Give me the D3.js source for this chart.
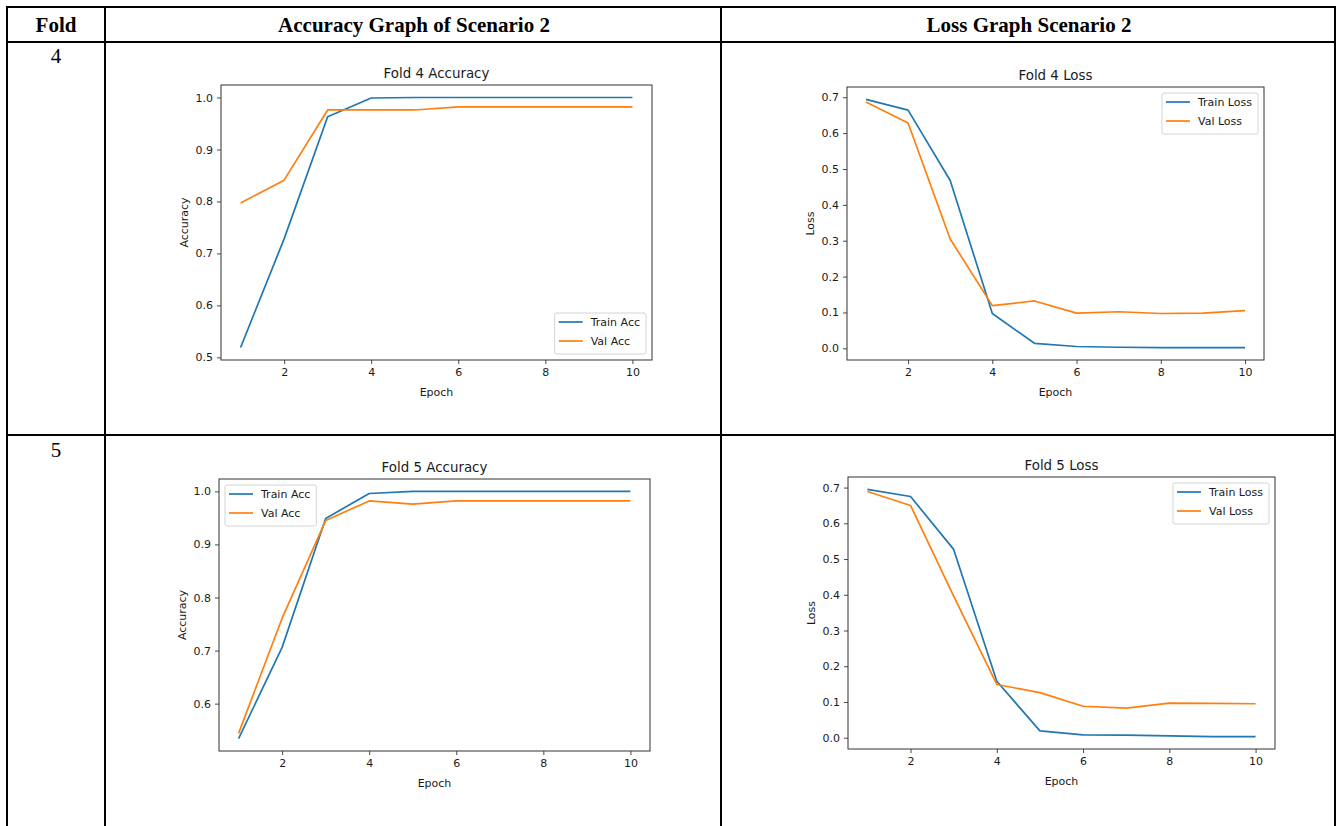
<!DOCTYPE html>
<html>
<head>
<meta charset="utf-8">
<script src="https://cdn.jsdelivr.net/npm/d3@7"></script>
<style>
  body { margin: 0; background: #fff; }
  svg { display: block; }
  .cell-text { font-family: "Liberation Serif", "Times New Roman", serif; fill: #000; }
  .plot text { font-family: "DejaVu Sans", sans-serif; fill: #1a1a1a; }
</style>
</head>
<body>
<div id="chart"></div>
<script>
const width = 1336;
const height = 826;

// data
const epochs = [1, 2, 3, 4, 5, 6, 7, 8, 9, 10];
const fold4TrainAcc = [0.519, 0.728, 0.963, 0.999, 1.0, 1.0, 1.0, 1.0, 1.0, 1.0];
const fold4ValAcc = [0.797, 0.841, 0.976, 0.976, 0.976, 0.982, 0.982, 0.982, 0.982, 0.982];
const fold4TrainLoss = [0.694, 0.664, 0.468, 0.097, 0.014, 0.005, 0.003, 0.002, 0.002, 0.002];
const fold4ValLoss = [0.687, 0.628, 0.305, 0.119, 0.132, 0.098, 0.102, 0.097, 0.098, 0.105];
const fold5TrainAcc = [0.534, 0.706, 0.949, 0.996, 1.0, 1.0, 1.0, 1.0, 1.0, 1.0];
const fold5ValAcc = [0.544, 0.761, 0.945, 0.982, 0.976, 0.982, 0.982, 0.982, 0.982, 0.982];
const fold5TrainLoss = [0.695, 0.675, 0.527, 0.158, 0.019, 0.008, 0.007, 0.005, 0.003, 0.003];
const fold5ValLoss = [0.689, 0.650, 0.396, 0.149, 0.126, 0.088, 0.083, 0.097, 0.096, 0.095];

const xTicks = [2, 4, 6, 8, 10];
const accTicks4 = [0.5, 0.6, 0.7, 0.8, 0.9, 1.0];
const accTicks5 = [0.6, 0.7, 0.8, 0.9, 1.0];
const lossTicks = [0.0, 0.1, 0.2, 0.3, 0.4, 0.5, 0.6, 0.7];

const headers = ['Fold', 'Accuracy Graph of Scenario 2', 'Loss Graph Scenario 2'];
const foldLabels = ['4', '5'];

const colors = ['#1f77b4', '#ff7f0e'];

const panels = [
  {title: 'Fold 4 Accuracy', ylabel: 'Accuracy', series: [fold4TrainAcc, fold4ValAcc],
   names: ['Train Acc', 'Val Acc'], yTicks: accTicks4, legend: 'lower right',
   box: {x: 221, y: 85, w: 431, h: 275}},
  {title: 'Fold 4 Loss', ylabel: 'Loss', series: [fold4TrainLoss, fold4ValLoss],
   names: ['Train Loss', 'Val Loss'], yTicks: lossTicks, legend: 'upper right',
   box: {x: 847, y: 87, w: 417, h: 273}},
  {title: 'Fold 5 Accuracy', ylabel: 'Accuracy', series: [fold5TrainAcc, fold5ValAcc],
   names: ['Train Acc', 'Val Acc'], yTicks: accTicks5, legend: 'upper left',
   box: {x: 219, y: 479, w: 431, h: 272}},
  {title: 'Fold 5 Loss', ylabel: 'Loss', series: [fold5TrainLoss, fold5ValLoss],
   names: ['Train Loss', 'Val Loss'], yTicks: lossTicks, legend: 'upper right',
   box: {x: 848, y: 477, w: 427, h: 272}}
];

const svg = d3.select('#chart').append('svg')
  .attr('width', width)
  .attr('height', height);

// table grid
const grid = svg.append('g').attr('stroke', '#000').attr('stroke-width', 2);
[7, 42, 435].forEach(y => {
  grid.append('line').attr('x1', 6).attr('x2', 1336).attr('y1', y).attr('y2', y);
});
[7, 105, 721, 1335].forEach(x => {
  grid.append('line').attr('x1', x).attr('x2', x).attr('y1', 6).attr('y2', height);
});

const headerX = [56, 414, 1029];
svg.selectAll('.hdr')
  .data(headers)
  .join('text')
  .attr('class', 'cell-text hdr')
  .attr('x', (d, i) => headerX[i])
  .attr('y', 32)
  .attr('text-anchor', 'middle')
  .attr('font-weight', 'bold')
  .attr('font-size', 21)
  .text(d => d);

svg.selectAll('.fold')
  .data(foldLabels)
  .join('text')
  .attr('class', 'cell-text fold')
  .attr('x', 56)
  .attr('y', (d, i) => [63, 457][i])
  .attr('text-anchor', 'middle')
  .attr('font-size', 21)
  .text(d => d);

function padded(values) {
  const lo = d3.min(values);
  const hi = d3.max(values);
  const m = (hi - lo) * 0.05;
  return [lo - m, hi + m];
}

panels.forEach(p => {
  const b = p.box;
  const g = svg.append('g').attr('class', 'plot').attr('transform', `translate(${b.x},${b.y})`);

  const x = d3.scaleLinear().domain(padded(epochs)).range([0, b.w]);
  const y = d3.scaleLinear().domain(padded(p.series.flat())).range([b.h, 0]);

  const xAxis = g.append('g')
    .attr('transform', `translate(0,${b.h})`)
    .call(d3.axisBottom(x).tickValues(xTicks).tickSize(4).tickPadding(4).tickSizeOuter(0));
  const yAxis = g.append('g')
    .call(d3.axisLeft(y).tickValues(p.yTicks).tickFormat(d3.format('.1f')).tickSize(4).tickPadding(4).tickSizeOuter(0));
  [xAxis, yAxis].forEach(a => {
    a.select('.domain').remove();
    a.selectAll('.tick line').attr('stroke', '#333').attr('stroke-width', 0.9);
    a.selectAll('.tick text').attr('font-size', 11).attr('fill', '#1a1a1a');
  });

  const line = d3.line().x((d, i) => x(epochs[i])).y(d => y(d));
  g.selectAll('.series')
    .data(p.series)
    .join('path')
    .attr('fill', 'none')
    .attr('stroke', (d, i) => colors[i])
    .attr('stroke-width', 1.7)
    .attr('stroke-linejoin', 'round')
    .attr('d', line);

  g.append('rect')
    .attr('width', b.w).attr('height', b.h)
    .attr('fill', 'none').attr('stroke', '#333').attr('stroke-width', 1);

  g.append('text')
    .attr('x', b.w / 2).attr('y', -7)
    .attr('text-anchor', 'middle')
    .attr('font-size', 13.4)
    .text(p.title);

  g.append('text')
    .attr('x', b.w / 2).attr('y', b.h + 36)
    .attr('text-anchor', 'middle')
    .attr('font-size', 11)
    .text('Epoch');

  g.append('text')
    .attr('transform', `translate(-33,${b.h / 2}) rotate(-90)`)
    .attr('text-anchor', 'middle')
    .attr('font-size', 11)
    .text(p.ylabel);

  // legend
  const leg = g.append('g');
  const frame = leg.append('rect')
    .attr('fill', '#fff').attr('fill-opacity', 0.8)
    .attr('stroke', '#d4d4d4').attr('stroke-width', 1).attr('rx', 2);
  const items = leg.selectAll('.item')
    .data(p.names)
    .join('g')
    .attr('transform', (d, i) => `translate(0,${9 + i * 19})`);
  items.append('line')
    .attr('x1', 4).attr('x2', 28)
    .attr('stroke', (d, i) => colors[i]).attr('stroke-width', 1.7);
  const labels = items.append('text')
    .attr('x', 36).attr('dy', '0.35em')
    .attr('font-size', 11)
    .text(d => d);
  const tw = d3.max(labels.nodes(), n => n.getComputedTextLength());
  const lw = 36 + tw + 6;
  const lh = 41;
  frame.attr('width', lw).attr('height', lh);
  let lx = b.w - 6 - lw;
  let ly = 6;
  if (p.legend === 'lower right') ly = b.h - 6 - lh;
  if (p.legend === 'upper left') lx = 6;
  leg.attr('transform', `translate(${lx},${ly})`);
});
</script>
</body>
</html>
